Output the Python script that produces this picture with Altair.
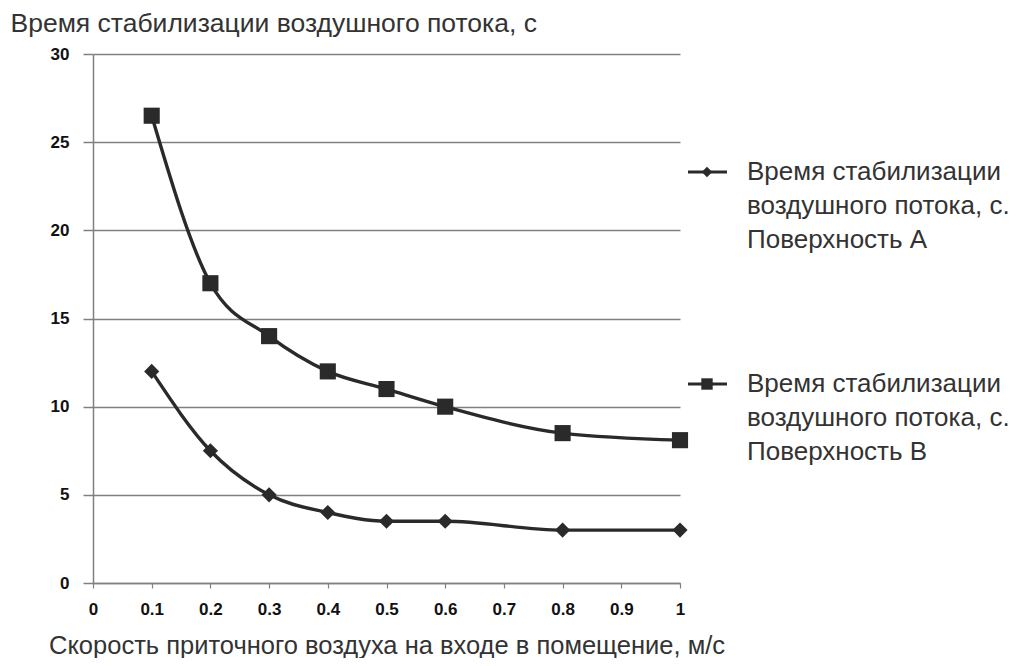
import altair as alt
import pandas as pd

# --- data ---
x_vals = [0.1, 0.2, 0.3, 0.4, 0.5, 0.6, 0.8, 1.0]
series_a = [12, 7.5, 5, 4, 3.5, 3.5, 3, 3]
series_b = [26.5, 17, 14, 12, 11, 10, 8.5, 8.1]
x_ticks = [0, 0.1, 0.2, 0.3, 0.4, 0.5, 0.6, 0.7, 0.8, 0.9, 1.0]
y_ticks = [0, 5, 10, 15, 20, 25, 30]
legend_a = "Время стабилизации\nвоздушного потока, с.\nПоверхность А"
legend_b = "Время стабилизации\nвоздушного потока, с.\nПоверхность В"
y_title = "Время стабилизации воздушного потока, с"
x_title = "Скорость приточного воздуха на входе в помещение, м/с"

df_a = pd.DataFrame({"x": x_vals, "y": series_a})
df_b = pd.DataFrame({"x": x_vals, "y": series_b})

INK = "#2a2a2a"
GRID = "#808080"
TXT = "#333333"
W, H = 587, 529

x_enc = alt.X("x:Q", scale=alt.Scale(domain=[0, 1], nice=False),
              axis=alt.Axis(values=x_ticks, format=".1~f", title=x_title,
                            grid=False, tickSize=5, tickColor=GRID, domainColor=GRID,
                            domainWidth=1.5, tickWidth=1.2,
                            labelFont="Liberation Sans", labelFontWeight="bold", labelFontSize=17,
                            labelColor="#111", labelPadding=13, labelFlush=False,
                            titleFont="Liberation Sans", titleFontWeight="normal",
                            titleFontSize=25.5, titleColor=TXT,
                            titleBaseline="middle", titleY=62))
y_enc = alt.Y("y:Q", scale=alt.Scale(domain=[0, 30], nice=False),
              axis=alt.Axis(values=y_ticks, title=y_title, grid=True, gridColor=GRID,
                            gridWidth=1.5, tickSize=10, tickColor=GRID, tickWidth=1.5,
                            domainColor=GRID, domainWidth=1.5,
                            labelFont="Liberation Sans", labelFontWeight="bold", labelFontSize=17,
                            labelColor="#111", labelPadding=14,
                            titleAngle=0, titleAlign="left", titleBaseline="middle",
                            titleX=-83, titleY=-31,
                            titleFont="Liberation Sans", titleFontWeight="normal",
                            titleFontSize=26.5, titleColor=TXT))

line_a = alt.Chart(df_a).mark_line(color=INK, strokeWidth=3.4, interpolate="monotone").encode(x=x_enc, y=y_enc)
pts_a = alt.Chart(df_a).mark_point(shape="diamond", filled=True, color=INK, size=230, opacity=1).encode(x="x:Q", y="y:Q")
line_b = alt.Chart(df_b).mark_line(color=INK, strokeWidth=3.4, interpolate="monotone").encode(x="x:Q", y="y:Q")
pts_b = alt.Chart(df_b).mark_point(shape="square", filled=True, color=INK, size=260, opacity=1).encode(x="x:Q", y="y:Q")

one = pd.DataFrame({"k": [0]})

def legend_entry(label, shape, size, ly):
    rule = alt.Chart(one).mark_rule(color=INK, strokeWidth=3.2).encode(
        x=alt.value(595), x2=alt.value(634), y=alt.value(ly))
    sym = alt.Chart(one).mark_point(shape=shape, filled=True, color=INK, size=size, opacity=1).encode(
        x=alt.value(614), y=alt.value(ly))
    txt = alt.Chart(one).mark_text(align="left", baseline="middle", lineBreak="\n", lineHeight=34,
                                   font="Liberation Sans", fontSize=26, color=TXT).encode(
        x=alt.value(654), y=alt.value(ly), text=alt.value(label))
    return rule + sym + txt

leg_a = legend_entry(legend_a, "diamond", 110, 118)
leg_b = legend_entry(legend_b, "square", 130, 330)

chart = alt.layer(line_a, pts_a, line_b, pts_b, leg_a, leg_b).properties(
    width=W, height=H,
    autosize=alt.AutoSizeParams(type="none"),
    padding={"left": 85, "top": 46, "right": 336, "bottom": 75},
    background="white",
).configure_view(stroke=None)

chart.save("out.html", embed_options={"renderer": "svg", "actions": False})
